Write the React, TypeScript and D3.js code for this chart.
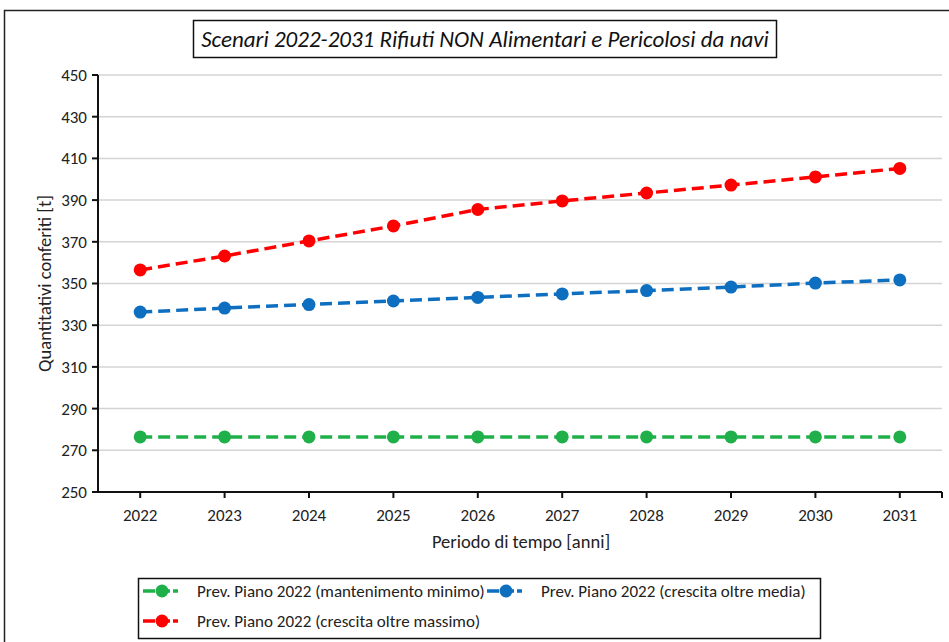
import * as d3 from "d3";
import React from "react";

const years = ["2022", "2023", "2024", "2025", "2026", "2027", "2028", "2029", "2030", "2031"];
const minimo = [276.4, 276.4, 276.4, 276.4, 276.4, 276.4, 276.4, 276.4, 276.4, 276.4];
const media = [336.3, 338.2, 339.9, 341.6, 343.3, 345.0, 346.6, 348.3, 350.2, 351.7];
const massimo = [356.5, 363.2, 370.4, 377.6, 385.5, 389.6, 393.4, 397.2, 401.1, 405.2];
const yTicks = [250, 270, 290, 310, 330, 350, 370, 390, 410, 430, 450];

const seriesList = [
	{ name: "Prev. Piano 2022 (mantenimento minimo)", values: minimo, color: "#1fb04a" },
	{ name: "Prev. Piano 2022 (crescita oltre media)", values: media, color: "#0e6fc0" },
	{ name: "Prev. Piano 2022 (crescita oltre massimo)", values: massimo, color: "#ff0000" },
];

const font = "Carlito, 'Liberation Sans Narrow', 'Open Sans', sans-serif";

export default function App() {
	const W = 949;
	const H = 642;
	const left = 98;
	const right = 942;
	const top = 75;
	const bottom = 492;

	const x = d3.scalePoint<string>().domain(years).range([left, right]).padding(0.5);
	const y = d3.scaleLinear().domain([250, 450]).range([bottom, top]);

	const line = d3
		.line<number>()
		.x((_, i) => x(years[i]) as number)
		.y((d) => y(d));

	return (
		<svg width={W} height={H} style={{ position: "absolute", left: 0, top: 0, fontFamily: font }}>
			<rect x={0} y={0} width={W} height={H} fill="white" />
			{/* outer frame */}
			<rect x={4.5} y={10.5} width={W + 10} height={H + 10} fill="none" stroke="#222" strokeWidth={1.5} />

			{/* title box */}
			<rect x={193.5} y={20.5} width={583} height={37} fill="white" stroke="#111" strokeWidth={1.5} />
			<text x={485} y={47} textAnchor="middle" fontSize={23} fontStyle="italic" fontWeight={500} fill="#111">
				Scenari 2022-2031 Rifiuti NON Alimentari e Pericolosi da navi
			</text>

			{/* gridlines */}
			{yTicks.slice(1).map((t) => (
				<line key={t} x1={left} x2={right} y1={y(t)} y2={y(t)} stroke="#d4d4d4" strokeWidth={1.5} />
			))}

			{/* y axis */}
			<line x1={left} x2={left} y1={top} y2={bottom} stroke="#111" strokeWidth={2} />
			{yTicks.map((t) => (
				<g key={t}>
					<line x1={left - 6} x2={left} y1={y(t)} y2={y(t)} stroke="#111" strokeWidth={2} />
					<text x={left - 11} y={y(t)} dy="0.35em" textAnchor="end" fontSize={17} fill="#222">
						{t}
					</text>
				</g>
			))}

			{/* x axis */}
			<line x1={left} x2={right} y1={bottom} y2={bottom} stroke="#111" strokeWidth={2} />
			{years.map((yr) => (
				<g key={yr}>
					<line x1={x(yr)} x2={x(yr)} y1={bottom} y2={bottom + 6} stroke="#111" strokeWidth={2} />
					<text x={x(yr)} y={bottom + 23} dy="0.35em" textAnchor="middle" fontSize={17} fill="#222">
						{yr}
					</text>
				</g>
			))}
			<line x1={right} x2={right} y1={bottom} y2={bottom + 6} stroke="#111" strokeWidth={2} />

			<text x={521} y={542} dy="0.35em" textAnchor="middle" fontSize={18.5} fill="#222">
				Periodo di tempo [anni]
			</text>
			<text
				transform={`translate(45,${(top + bottom) / 2}) rotate(-90)`}
				textAnchor="middle"
				dy="0.35em"
				fontSize={18.5}
				fill="#222"
			>
				Quantitativi conferiti [t]
			</text>

			{/* series */}
			{seriesList.map((s) => (
				<g key={s.name}>
					<path d={line(s.values) || ""} fill="none" stroke={s.color} strokeWidth={3.5} strokeDasharray="12,6" />
					{s.values.map((v, i) => (
						<circle key={i} cx={x(years[i])} cy={y(v)} r={6.5} fill={s.color} />
					))}
				</g>
			))}

			{/* legend */}
			<rect x={138.5} y={578.5} width={682} height={60} fill="white" stroke="#111" strokeWidth={1.5} />
			{seriesList.map((s, i) => {
				const lx = i === 1 ? 487 : 143;
				const ly = i === 2 ? 621 : 591;
				return (
					<g key={s.name}>
						<line x1={lx} x2={lx + 35} y1={ly} y2={ly} stroke={s.color} strokeWidth={3.5} strokeDasharray="12,3" />
						<circle cx={lx + 19} cy={ly} r={6.5} fill={s.color} />
						<text x={lx + 54} y={ly} dy="0.35em" fontSize={17} fill="#222">
							{s.name}
						</text>
					</g>
				);
			})}
		</svg>
	);
}
